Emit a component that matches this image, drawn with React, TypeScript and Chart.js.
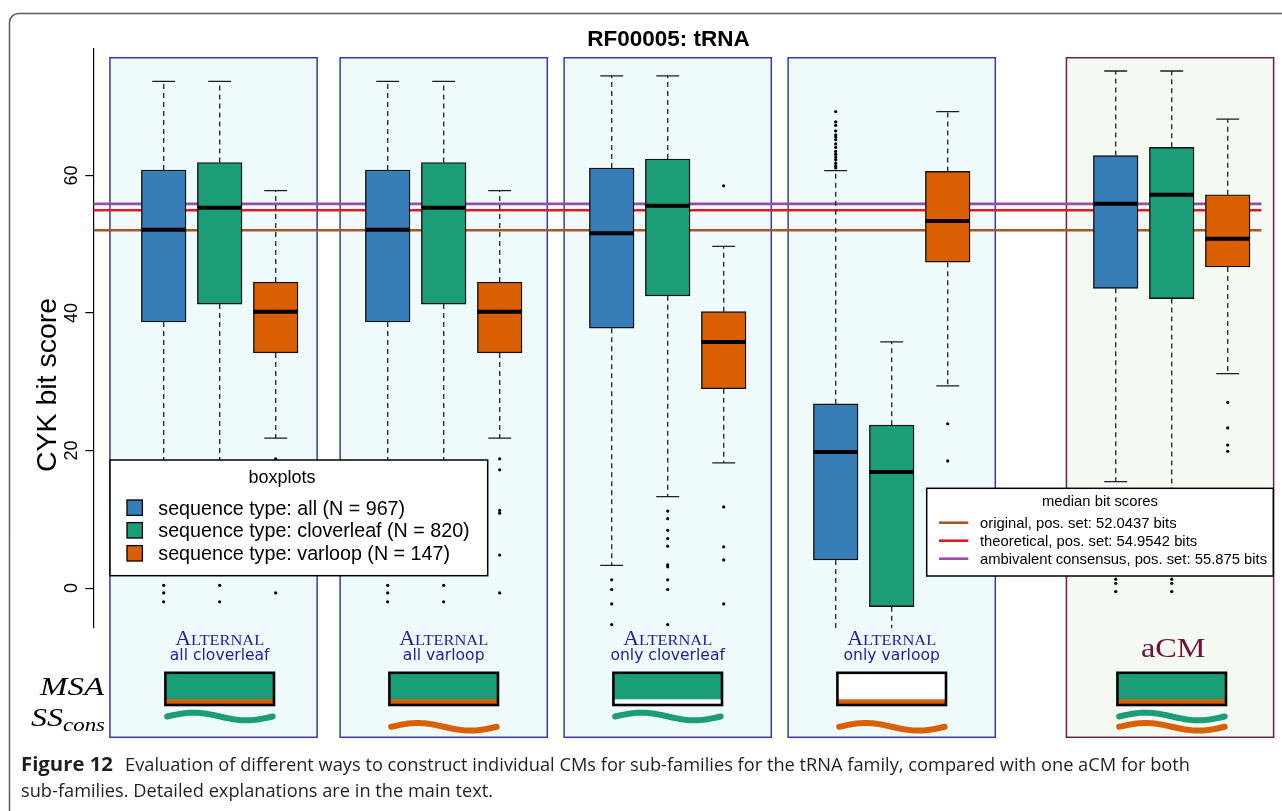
import React, { useEffect, useRef } from "react";
import { Chart, registerables } from "chart.js";

Chart.register(...registerables);

// ---------------- data ----------------
const TITLE = "RF00005: tRNA";
const Y_TITLE = "CYK bit score";
const Y_TICKS = [0, 20, 40, 60];

const PANEL_METHOD = ["Alternal", "Alternal", "Alternal", "Alternal", "aCM"];
const PANEL_SUBTITLE = ["all cloverleaf", "all varloop", "only cloverleaf", "only varloop", ""];
const PANEL_START = [1, 5, 9, 13, 18];

const SERIES = [
  "sequence type: all (N = 967)",
  "sequence type: cloverleaf (N = 820)",
  "sequence type: varloop (N = 147)",
];
const SERIES_COLORS = ["#377EB8", "#1B9E77", "#D95F02"];

const ALL_WHISKER_HI = [73.7, 73.7, 74.5, 60.7, 75.2];
const ALL_Q3 = [60.8, 60.8, 61.1, 26.8, 62.9];
const ALL_MEDIAN = [52.1, 52.1, 51.6, 19.8, 55.9];
const ALL_Q1 = [38.7, 38.7, 37.8, 4.1, 43.6];
const ALL_WHISKER_LO = [3.3, 3.3, 3.3, -6.5, 15.5];
const ALL_OUTLIERS = [
  [0.4, -0.7, -2.0],
  [0.4, -0.7, -2.0],
  [1.2, -0.2, -2.3, -5.3],
  [69.3, 67.8, 67.3, 66.5, 65.9, 65.6, 65.2, 64.6, 64.1, 63.5, 63.1, 62.7, 62.3, 61.8, 61.4, 61.1],
  [1.3, 0.7, -0.5],
];

const CLOVER_WHISKER_HI = [73.7, 73.7, 74.5, 35.8, 75.2];
const CLOVER_Q3 = [61.9, 61.9, 62.4, 23.7, 64.1];
const CLOVER_MEDIAN = [55.3, 55.3, 55.6, 16.9, 57.2];
const CLOVER_Q1 = [41.3, 41.3, 42.5, -2.7, 42.1];
const CLOVER_WHISKER_LO = [3.0, 3.0, 13.3, -6.5, 3.0];
const CLOVER_OUTLIERS = [
  [0.4, -2.0],
  [0.4, -2.0],
  [11.2, 10.1, 8.4, 7.2, 6.1, 3.4, 3.1, 1.2, -0.2, -5.3],
  [],
  [1.3, 0.7, -0.5],
];

const VAR_WHISKER_HI = [57.8, 57.8, 49.7, 69.3, 68.2];
const VAR_Q3 = [44.5, 44.5, 40.2, 60.6, 57.2];
const VAR_MEDIAN = [40.2, 40.2, 35.8, 53.4, 50.8];
const VAR_Q1 = [34.2, 34.2, 29.0, 47.4, 46.7];
const VAR_WHISKER_LO = [21.8, 21.8, 18.2, 29.4, 31.2];
const VAR_OUTLIERS = [
  [18.8, 17.2, 11.3, 10.9, 4.8, -0.7],
  [18.8, 17.2, 11.3, 10.9, 4.8, -0.7],
  [58.5, 11.8, 6.0, 4.1, -2.3],
  [23.9, 18.5],
  [27.0, 23.3, 20.8, 19.9],
];

const REF_LABELS = [
  "original, pos. set: 52.0437 bits",
  "theoretical, pos. set: 54.9542 bits",
  "ambivalent consensus, pos. set: 55.875 bits",
];
const REF_VALUES = [52.0437, 54.9542, 55.875];
const REF_COLORS = ["#A65628", "#E41A1C", "#984EA3"];

// MSA glyph: main fill series index (or -1 = white), strip series index (or -1 = white)
const MSA_MAIN = [1, 1, 1, -1, 1];
const MSA_STRIP = [2, 2, -1, 2, 2];
const SS_WAVES = [[1], [2], [1], [2], [1, 2]];

const CAPTION_BOLD = "Figure 12";
const CAPTION_LINE1 =
  "Evaluation of different ways to construct individual CMs for sub-families for the tRNA family, compared with one aCM for both";
const CAPTION_LINE2 = "sub-families. Detailed explanations are in the main text.";

// ---------------- layout constants ----------------
const W = 1282;
const H = 811;
const X_MIN = -0.257;
const X_MAX = 20.607;
const Y_MIN = -5.8;
const Y_MAX = 78.4;

const SERIES_DATA = [
  { hi: ALL_WHISKER_HI, q3: ALL_Q3, med: ALL_MEDIAN, q1: ALL_Q1, lo: ALL_WHISKER_LO, out: ALL_OUTLIERS },
  { hi: CLOVER_WHISKER_HI, q3: CLOVER_Q3, med: CLOVER_MEDIAN, q1: CLOVER_Q1, lo: CLOVER_WHISKER_LO, out: CLOVER_OUTLIERS },
  { hi: VAR_WHISKER_HI, q3: VAR_Q3, med: VAR_MEDIAN, q1: VAR_Q1, lo: VAR_WHISKER_LO, out: VAR_OUTLIERS },
];

const BOX_W = 44.6;
const SANS = '"Liberation Sans", Arial, sans-serif';
const SERIF = '"Liberation Serif", "Times New Roman", serif';

function fitText(ctx: CanvasRenderingContext2D, text: string, x: number, y: number, width: number, font: string, color: string) {
  ctx.save();
  ctx.font = font;
  ctx.fillStyle = color;
  ctx.textAlign = "left";
  ctx.textBaseline = "alphabetic";
  const w = ctx.measureText(text).width;
  ctx.translate(x, y);
  ctx.scale(width / w, 1);
  ctx.fillText(text, 0, 0);
  ctx.restore();
}

function smallCaps(ctx: CanvasRenderingContext2D, word: string, cx: number, baseline: number, width: number, color: string) {
  const first = word[0].toUpperCase();
  const rest = word.slice(1).toUpperCase();
  const big = `20px ${SERIF}`;
  const small = `15px ${SERIF}`;
  ctx.save();
  ctx.font = big;
  const wA = ctx.measureText(first).width;
  ctx.font = small;
  const wR = ctx.measureText(rest).width;
  const s = width / (wA + wR);
  ctx.translate(cx - width / 2, baseline);
  ctx.scale(s, 1);
  ctx.fillStyle = color;
  ctx.textAlign = "left";
  ctx.textBaseline = "alphabetic";
  ctx.font = big;
  ctx.fillText(first, 0, 0);
  ctx.font = small;
  ctx.fillText(rest, wA, 0);
  ctx.restore();
}

function wave(ctx: CanvasRenderingContext2D, x0: number, x1: number, yc: number, amp: number, color: string) {
  ctx.save();
  ctx.beginPath();
  const n = 48;
  for (let i = 0; i <= n; i++) {
    const t = i / n;
    const px = x0 + (x1 - x0) * t;
    const py = yc - amp * Math.sin(2 * Math.PI * t);
    if (i === 0) ctx.moveTo(px, py);
    else ctx.lineTo(px, py);
  }
  ctx.lineWidth = 6;
  ctx.lineCap = "round";
  ctx.lineJoin = "round";
  ctx.strokeStyle = color;
  ctx.stroke();
  ctx.restore();
}

const decoPlugin = {
  id: "deco",
  beforeDraw(chart: any) {
    const ctx: CanvasRenderingContext2D = chart.ctx;
    ctx.save();
    ctx.fillStyle = "#fff";
    ctx.fillRect(0, 0, W, H);
    // outer rounded frame
    ctx.beginPath();
    ctx.roundRect(9.5, 13.5, W + 20, H + 20, 9);
    ctx.strokeStyle = "#5c5c5c";
    ctx.lineWidth = 1.5;
    ctx.stroke();
    ctx.restore();
  },
  beforeDatasetsDraw(chart: any) {
    const ctx: CanvasRenderingContext2D = chart.ctx;
    const xs = chart.scales.x;
    const ys = chart.scales.y;
    const top = ys.getPixelForValue(77.13);
    const bottom = 737.3;
    ctx.save();
    PANEL_START.forEach((p, pi) => {
      const last = pi === PANEL_START.length - 1;
      let lo = -0.85;
      let hi = 2.85;
      if (pi === 0) {
        lo = -0.96;
        hi = 2.74;
      } else if (last) {
        lo = -0.88;
        hi = 2.82;
      }
      const l = xs.getPixelForValue(p + lo);
      const r = xs.getPixelForValue(p + hi);
      ctx.fillStyle = last ? "#F4F9F1" : "#EFFAFC";
      ctx.fillRect(l, top, r - l, bottom - top);
      ctx.strokeStyle = last ? "#6E1F45" : "#3A3AA6";
      ctx.lineWidth = 1.5;
      ctx.strokeRect(l, top, r - l, bottom - top);
    });
    ctx.restore();
  },
  afterDatasetsDraw(chart: any) {
    const ctx: CanvasRenderingContext2D = chart.ctx;
    const xs = chart.scales.x;
    const ys = chart.scales.y;
    const area = chart.chartArea;
    ctx.save();
    ctx.beginPath();
    ctx.rect(area.left, area.top, area.right - area.left, area.bottom - area.top);
    ctx.clip();
    SERIES_DATA.forEach((s, si) => {
      PANEL_START.forEach((p, pi) => {
        const cx = xs.getPixelForValue(p + si);
        const yHi = ys.getPixelForValue(s.hi[pi]);
        const yQ3 = ys.getPixelForValue(s.q3[pi]);
        const yQ1 = ys.getPixelForValue(s.q1[pi]);
        const yLo = ys.getPixelForValue(s.lo[pi]);
        const yMed = ys.getPixelForValue(s.med[pi]);
        ctx.strokeStyle = "#1e1e1e";
        ctx.lineWidth = 1.3;
        ctx.setLineDash([5, 4]);
        ctx.beginPath();
        ctx.moveTo(cx, yQ3);
        ctx.lineTo(cx, yHi);
        ctx.moveTo(cx, yQ1);
        ctx.lineTo(cx, yLo);
        ctx.stroke();
        ctx.setLineDash([]);
        ctx.lineWidth = 1.3;
        ctx.beginPath();
        ctx.moveTo(cx - 11.5, yHi);
        ctx.lineTo(cx + 11.5, yHi);
        ctx.moveTo(cx - 11.5, yLo);
        ctx.lineTo(cx + 11.5, yLo);
        ctx.stroke();
        ctx.strokeStyle = "#000";
        ctx.lineWidth = 4;
        ctx.beginPath();
        ctx.moveTo(cx - BOX_W / 2, yMed);
        ctx.lineTo(cx + BOX_W / 2, yMed);
        ctx.stroke();
      });
    });
    ctx.restore();
  },
  afterDraw(chart: any) {
    const ctx: CanvasRenderingContext2D = chart.ctx;
    const xs = chart.scales.x;
    ctx.save();

    // title
    ctx.fillStyle = "#000";
    ctx.font = `bold 22.5px ${SANS}`;
    ctx.textAlign = "center";
    ctx.textBaseline = "alphabetic";
    ctx.fillText(TITLE, 668.5, 46);

    // y axis title
    ctx.save();
    ctx.translate(56, 385);
    ctx.rotate(-Math.PI / 2);
    ctx.font = `28.5px ${SANS}`;
    ctx.textAlign = "center";
    ctx.fillText(Y_TITLE, 0, 0);
    ctx.restore();

    // panel labels, MSA glyphs, SS_cons waves
    PANEL_START.forEach((p, pi) => {
      const cx = xs.getPixelForValue(p + 1);
      if (PANEL_METHOD[pi] === "aCM") {
        fitText(ctx, "aCM", cx + 1.5 - 32.3, 657, 64.6, `28px ${SERIF}`, "#6B1238");
      } else {
        smallCaps(ctx, PANEL_METHOD[pi], cx, 645, 89, "#1E1E96");
        ctx.font = `15.6px "DejaVu Sans", sans-serif`;
        ctx.fillStyle = "#1E1E96";
        ctx.textAlign = "center";
        ctx.fillText(PANEL_SUBTITLE[pi], cx, 660);
      }
      // MSA rectangle
      const l = cx - 54.3;
      const r = cx + 54.3;
      const t = 672.8;
      const b = 705;
      ctx.fillStyle = MSA_MAIN[pi] >= 0 ? SERIES_COLORS[MSA_MAIN[pi]] : "#fff";
      ctx.fillRect(l, t, r - l, b - t);
      ctx.fillStyle = MSA_STRIP[pi] >= 0 ? SERIES_COLORS[MSA_STRIP[pi]] : "#fff";
      ctx.fillRect(l, 699.3, r - l, b - 699.3);
      ctx.strokeStyle = "#000";
      ctx.lineWidth = 2.6;
      ctx.strokeRect(l, t, r - l, b - t);
      // waves
      SS_WAVES[pi].forEach((si) => {
        const yc = si === 1 ? 716.5 : 726.8;
        wave(ctx, cx - 52.5, cx + 53, yc, 3.8, SERIES_COLORS[si]);
      });
    });

    // MSA / SS_cons row labels
    fitText(ctx, "MSA", 40, 695, 64, `italic 26px ${SERIF}`, "#000");
    fitText(ctx, "SS", 31, 726, 32, `italic 26px ${SERIF}`, "#000");
    fitText(ctx, "cons", 63, 731, 42, `italic 18px ${SERIF}`, "#000");

    // legend 1: boxplots
    ctx.fillStyle = "#fff";
    ctx.fillRect(110, 460, 377.7, 115.7);
    ctx.strokeStyle = "#000";
    ctx.lineWidth = 1.5;
    ctx.strokeRect(110, 460, 377.7, 115.7);
    ctx.fillStyle = "#000";
    ctx.font = `18px ${SANS}`;
    ctx.textAlign = "center";
    ctx.fillText("boxplots", 282, 483.3);
    const ly = [507.7, 530.3, 553.3];
    SERIES.forEach((lab, i) => {
      ctx.fillStyle = SERIES_COLORS[i];
      ctx.fillRect(127, ly[i] - 7.7, 15.4, 15.4);
      ctx.strokeStyle = "#000";
      ctx.lineWidth = 1.3;
      ctx.strokeRect(127, ly[i] - 7.7, 15.4, 15.4);
      ctx.fillStyle = "#000";
      ctx.font = `19.7px ${SANS}`;
      ctx.textAlign = "left";
      ctx.fillText(lab, 158.3, ly[i] + 7);
    });

    // legend 2: median bit scores
    ctx.fillStyle = "#fff";
    ctx.fillRect(926.7, 488.3, 346.6, 87.7);
    ctx.strokeStyle = "#000";
    ctx.lineWidth = 1.5;
    ctx.strokeRect(926.7, 488.3, 346.6, 87.7);
    ctx.fillStyle = "#000";
    ctx.font = `14.8px ${SANS}`;
    ctx.textAlign = "center";
    ctx.fillText("median bit scores", 1100, 506);
    const ry = [522.7, 540.7, 558.7];
    REF_LABELS.forEach((lab, i) => {
      ctx.strokeStyle = REF_COLORS[i];
      ctx.lineWidth = 2.6;
      ctx.beginPath();
      ctx.moveTo(939, ry[i]);
      ctx.lineTo(968.3, ry[i]);
      ctx.stroke();
      ctx.fillStyle = "#000";
      ctx.font = `14.8px ${SANS}`;
      ctx.textAlign = "left";
      ctx.fillText(lab, 980, ry[i] + 5.3);
    });

    // caption
    const CAP = '"Open Sans", "Noto Sans", sans-serif';
    fitText(ctx, CAPTION_BOLD, 21, 770.7, 92, `bold 19px ${CAP}`, "#231F20");
    fitText(ctx, CAPTION_LINE1, 125, 770.7, 1065, `19px ${CAP}`, "#231F20");
    fitText(ctx, CAPTION_LINE2, 21, 796.7, 472, `19px ${CAP}`, "#231F20");

    ctx.restore();
  },
};

export default function App() {
  const ref = useRef<HTMLCanvasElement>(null);
  useEffect(() => {
    if (!ref.current) return;
    const datasets: any[] = [];
    REF_VALUES.forEach((v, i) => {
      datasets.push({
        type: "line",
        label: REF_LABELS[i],
        data: [
          { x: X_MIN, y: v },
          { x: X_MAX, y: v },
        ],
        borderColor: REF_COLORS[i],
        borderWidth: 2.6,
        pointRadius: 0,
        order: 5,
      });
    });
    SERIES_DATA.forEach((s, si) => {
      datasets.push({
        type: "bar",
        label: SERIES[si],
        data: PANEL_START.map((p, pi) => ({ x: p + si, y: [s.q1[pi], s.q3[pi]] })),
        backgroundColor: SERIES_COLORS[si],
        borderColor: "#111",
        borderWidth: 1.4,
        borderSkipped: false,
        barThickness: BOX_W,
        grouped: false,
        order: 2,
      });
    });
    datasets.push({
      type: "scatter",
      label: "outliers",
      data: SERIES_DATA.flatMap((s, si) =>
        s.out.flatMap((arr, pi) => arr.map((v) => ({ x: PANEL_START[pi] + si, y: v })))
      ),
      pointRadius: 1.6,
      backgroundColor: "#000",
      borderWidth: 0,
      order: 0,
    });

    const chart = new Chart(ref.current, {
      type: "bar",
      data: { datasets },
      options: {
        responsive: false,
        animation: false,
        layout: { padding: { left: 0, top: 49, right: W - 1261.7, bottom: H - 628 } },
        plugins: { legend: { display: false }, title: { display: false }, tooltip: { enabled: false } },
        scales: {
          x: { type: "linear", min: X_MIN, max: X_MAX, offset: false, display: false },
          y: {
            type: "linear",
            min: Y_MIN,
            max: Y_MAX,
            afterBuildTicks: (scale: any) => {
              scale.ticks = Y_TICKS.map((v) => ({ value: v }));
            },
            afterFit: (scale: any) => {
              scale.width = 93.3;
            },
            ticks: {
              font: { family: "Liberation Sans", size: 18 },
              color: "#000",
              minRotation: 90,
              maxRotation: 90,
              crossAlign: "center",
              padding: 3,
            },
            grid: { drawOnChartArea: false, drawTicks: true, tickLength: 8, color: "#000", lineWidth: 1.2 },
            border: { display: true, color: "#000", width: 1.2 },
          },
        },
      } as any,
      plugins: [decoPlugin],
    });
    return () => chart.destroy();
  }, []);
  return (
    <div style={{ position: "fixed", left: 0, top: 0, width: W, height: H, overflow: "hidden", background: "#fff" }}>
      <canvas ref={ref} width={W} height={H} style={{ display: "block", width: W, height: H }} />
    </div>
  );
}
